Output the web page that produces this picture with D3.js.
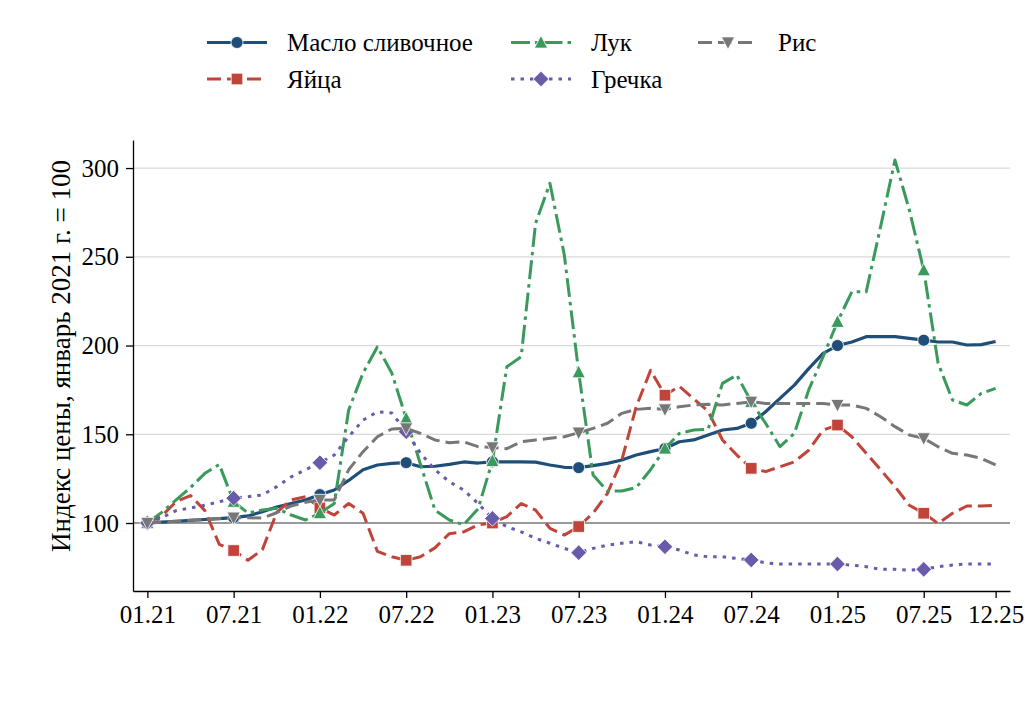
<!DOCTYPE html>
<html>
<head>
<meta charset="utf-8">
<script src="https://cdn.jsdelivr.net/npm/d3@7"></script>
<style>
    body { margin: 0; background: #fff; }
    text { font-family: "Liberation Serif", "Times New Roman", serif; fill: #000; }
</style>
</head>
<body>
<script>
var width = 1025;
var height = 703;

// monthly index, 01.21 .. 12.25
var butter = [100, 100.5, 101, 101.5, 102, 102.5, 103, 104, 106.4, 109, 111, 113,
    116, 118.6, 124, 130, 132.7, 133.6, 134, 131.7, 132, 133, 134.4, 133.8,
    134.5, 134.5, 134.5, 134.3, 132.7, 131.4, 131.2, 132.3, 133.6, 135.5, 138.3, 140.2,
    142, 145.8, 146.8, 149.6, 152.4, 153.3, 156.2, 162.7, 170.2, 177.7, 187, 195.6,
    200, 202, 205, 205, 205, 204, 203, 202, 202, 200.3, 200.5, 202.3];
var eggs = [100, 104, 112, 115.5, 107, 88, 84.5, 79, 85, 106, 113, 114.8,
    108.5, 104.5, 111, 105.5, 84, 81, 79, 81, 86, 94, 95, 99,
    100, 103.6, 111, 107.3, 97, 93.2, 98, 105.5, 116.7, 135.5, 165.5, 186,
    172, 177, 170, 163, 146.8, 138.3, 130.8, 129, 131.7, 134.5, 141, 152.4,
    155.2, 148.6, 139.3, 130, 120.5, 110, 105.5, 99.8, 105.5, 109.6, 109.6, 110];
var onion = [100, 106, 113, 120, 128, 133, 112, 105.6, 107.3, 108.3, 104.5, 101.7,
    105.6, 111, 163.7, 184.5, 199.3, 184.5, 159, 133, 107.3, 101.7, 99, 108,
    135, 188, 193.7, 268.8, 291.4, 251, 185, 127, 118, 118, 120, 130,
    142, 150.5, 152.4, 152.8, 178.7, 183.4, 168.3, 156.2, 143, 150.5, 175, 193.7,
    213.4, 230.3, 230.3, 267, 304.5, 276.3, 242.5, 190, 169.3, 166.5, 173, 175.9];
var buckwheat = [100, 103, 107, 108.5, 110, 112, 114, 114.8, 115.8, 120.5, 126, 130,
    134, 138.3, 148.6, 158, 162.7, 162, 151.4, 139.3, 130, 123.3, 118.6, 111,
    102.6, 98, 95, 91.4, 88.6, 85.7, 83.3, 85.7, 87.6, 88.6, 89.5, 87.6,
    86.6, 84.8, 82, 81, 81, 80, 79.2, 77.6, 76.9, 76.9, 76.9, 76.9,
    76.9, 76.3, 75.4, 73.9, 73.9, 73.5, 73.9, 75.4, 76.3, 76.9, 76.9, 76.9];
var rice = [100, 100.5, 101, 101.5, 102, 102.5, 103, 103, 102.8, 105.8, 109.6, 111.7,
    113, 113, 130, 140.2, 148.6, 153, 153.3, 150.5, 146.8, 145.2, 145.8, 143,
    142.6, 141.9, 145.8, 146.8, 147.7, 148.6, 150.9, 153.3, 156.2, 161.8, 164, 164.6,
    164, 165.5, 166.5, 166.9, 166.5, 167.4, 168.3, 167.4, 167.4, 167.4, 167.4, 167.4,
    166.5, 166.5, 164.6, 159.9, 154.3, 149.6, 147.7, 143, 139.3, 138.3, 136.4, 132.7];

var tickIdx = [0, 6, 12, 18, 24, 30, 36, 42, 48, 54, 59];
var tickLabels = ["01.21", "07.21", "01.22", "07.22", "01.23", "07.23", "01.24", "07.24", "01.25", "07.25", "12.25"];
var yTicks = [100, 150, 200, 250, 300];

var series = [
    { name: "Масло сливочное", values: butter, color: "#1f4e79", dash: null, lw: 3.2, marker: "circle" },
    { name: "Яйца", values: eggs, color: "#c0443a", dash: "14,6", lw: 3, marker: "square" },
    { name: "Лук", values: onion, color: "#3a9a5c", dash: "19,5,3.5,5", lw: 3, marker: "triangle" },
    { name: "Гречка", values: buckwheat, color: "#6a5aaa", dash: "3.5,6", lw: 3, marker: "diamond" },
    { name: "Рис", values: rice, color: "#777777", dash: "14,6", lw: 3, marker: "triangledown" }
];

var margin = { left: 133, right: 1010, top: 140, bottom: 591 };
var fontSize = "25px";

var x = d3.scaleLinear().domain([-1, 60]).range([margin.left, margin.right]);
var y = d3.scaleLinear().domain([61.7, 315.8]).range([margin.bottom, margin.top]);

function markerPath(type) {
    if (type == "circle") return "M6,0A6,6 0 1,1 -6,0A6,6 0 1,1 6,0Z";
    if (type == "square") return "M-5.8,-5.8H5.8V5.8H-5.8Z";
    if (type == "triangle") return "M0,-7L6.6,5.6L-6.6,5.6Z";
    if (type == "triangledown") return "M0,7L6.6,-5.6L-6.6,-5.6Z";
    if (type == "diamond") return "M0,-7.8L7.8,0L0,7.8L-7.8,0Z";
}

var svg = d3.select("body")
    .append("svg")
    .attr("width", width)
    .attr("height", height);

// grid
svg.append("g")
    .selectAll("line")
    .data(yTicks)
    .enter()
    .append("line")
    .attr("x1", margin.left)
    .attr("x2", margin.right)
    .attr("y1", function(d) { return y(d); })
    .attr("y2", function(d) { return y(d); })
    .attr("stroke", "#d9d9d9")
    .attr("stroke-width", 1.3);

svg.append("line")
    .attr("x1", margin.left)
    .attr("x2", margin.right)
    .attr("y1", y(100))
    .attr("y2", y(100))
    .attr("stroke", "#808080")
    .attr("stroke-width", 1.6);

// lines
var line = d3.line()
    .x(function(d, i) { return x(i); })
    .y(function(d) { return y(d); });

series.forEach(function(s) {
    svg.append("path")
        .datum(s.values)
        .attr("d", line)
        .attr("fill", "none")
        .attr("stroke", s.color)
        .attr("stroke-width", s.lw)
        .attr("stroke-dasharray", s.dash)
        .attr("stroke-linejoin", "round");

    var marks = s.values.map(function(v, i) { return { i: i, v: v }; })
        .filter(function(d) { return d.i % 6 == 0; });

    svg.append("g")
        .selectAll("path")
        .data(marks)
        .enter()
        .append("path")
        .attr("transform", function(d) { return "translate(" + x(d.i) + "," + y(d.v) + ")"; })
        .attr("d", markerPath(s.marker))
        .attr("fill", s.color)
        .attr("stroke", "#fff")
        .attr("stroke-width", 0.8);
});

// axes
var xAxis = d3.axisBottom(x)
    .tickValues(tickIdx)
    .tickFormat(function(d, i) { return tickLabels[i]; })
    .tickSize(7)
    .tickSizeOuter(0);

var gx = svg.append("g")
    .attr("transform", "translate(0," + margin.bottom + ")")
    .call(xAxis);

var yAxis = d3.axisLeft(y)
    .tickValues(yTicks)
    .tickSize(7)
    .tickSizeOuter(0);

var gy = svg.append("g")
    .attr("transform", "translate(" + margin.left + ",0)")
    .call(yAxis);

[gx, gy].forEach(function(g) {
    g.select(".domain").attr("stroke", "#000").attr("stroke-width", 1.3);
    g.selectAll(".tick line").attr("stroke", "#000").attr("stroke-width", 1.3);
    g.selectAll(".tick text")
        .attr("font-family", "Liberation Serif, serif")
        .attr("font-size", fontSize)
        .attr("fill", "#000");
});
gx.selectAll(".tick text").attr("y", 9).attr("dy", "0.9em");
gy.selectAll(".tick text").attr("x", -14);

svg.append("text")
    .attr("transform", "translate(70,356) rotate(-90)")
    .attr("text-anchor", "middle")
    .attr("font-size", "27px")
    .text("Индекс цены, январь 2021 г. = 100");

// legend (column-major, 3 columns)
var legendCols = [207, 511, 698];
var legendRows = [42.5, 79];

series.forEach(function(s, k) {
    var lx = legendCols[Math.floor(k / 2)];
    var ly = legendRows[k % 2];
    var g = svg.append("g").attr("transform", "translate(" + lx + "," + ly + ")");
    g.append("line")
        .attr("x1", 0)
        .attr("x2", 60)
        .attr("stroke", s.color)
        .attr("stroke-width", s.lw)
        .attr("stroke-dasharray", s.dash);
    g.append("path")
        .attr("transform", "translate(30,0)")
        .attr("d", markerPath(s.marker))
        .attr("fill", s.color)
        .attr("stroke", "#fff")
        .attr("stroke-width", 0.8);
    g.append("text")
        .attr("x", 80)
        .attr("dy", "0.35em")
        .attr("font-size", fontSize)
        .text(s.name);
});
</script>
</body>
</html>
